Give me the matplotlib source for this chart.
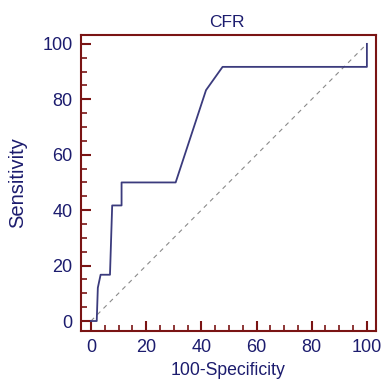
import matplotlib
matplotlib.use("Agg")
import matplotlib.pyplot as plt
from matplotlib.ticker import MultipleLocator

# ROC curve for CFR
fpr = [0, 2.1, 2.5, 3.5, 6.9, 7.7, 11.1, 11.1, 30.7, 41.7, 47.7, 100, 100]
tpr = [0, 0, 12.0, 16.7, 16.7, 41.7, 41.7, 50.0, 50.0, 83.3, 91.7, 91.7, 100]
diag = [0, 100]

navy = "#1c1c6e"
curve_col = "#3b3b7d"
frame_col = "#7a1414"

plt.rcParams['font.family'] = ['Liberation Sans', 'DejaVu Sans']

fig = plt.figure(figsize=(3.85, 3.91), dpi=100)
ax = fig.add_axes([81/385, 60/391, 295/385, 296/391])

ax.plot(diag, diag, color="#8a8a8a", lw=0.8, ls=(0, (4, 4)))
ax.plot(fpr, tpr, color=curve_col, lw=1.3)

ax.set_xlim(-3.6, 103.3)
ax.set_ylim(-3.6, 103.2)

for s in ax.spines.values():
    s.set_color(frame_col)
    s.set_linewidth(1.5)

ax.xaxis.set_major_locator(MultipleLocator(20))
ax.xaxis.set_minor_locator(MultipleLocator(5))
ax.yaxis.set_major_locator(MultipleLocator(20))
ax.yaxis.set_minor_locator(MultipleLocator(5))
ax.tick_params(which="major", direction="in", length=7, width=1.5, color=frame_col,
               labelcolor=navy, labelsize=13)
ax.tick_params(axis="x", which="major", pad=6)
ax.tick_params(axis="y", which="major", pad=6)
ax.tick_params(which="minor", direction="in", length=4, width=1.2, color=frame_col)

ax.set_title("CFR", color=navy, fontsize=12.5, pad=5.5, x=0.493)
ax.set_xlabel("100-Specificity", color=navy, fontsize=12.7, labelpad=4)
ax.set_ylabel("Sensitivity", color=navy, fontsize=14.5, labelpad=11)

fig.savefig("out.png", dpi=100)
